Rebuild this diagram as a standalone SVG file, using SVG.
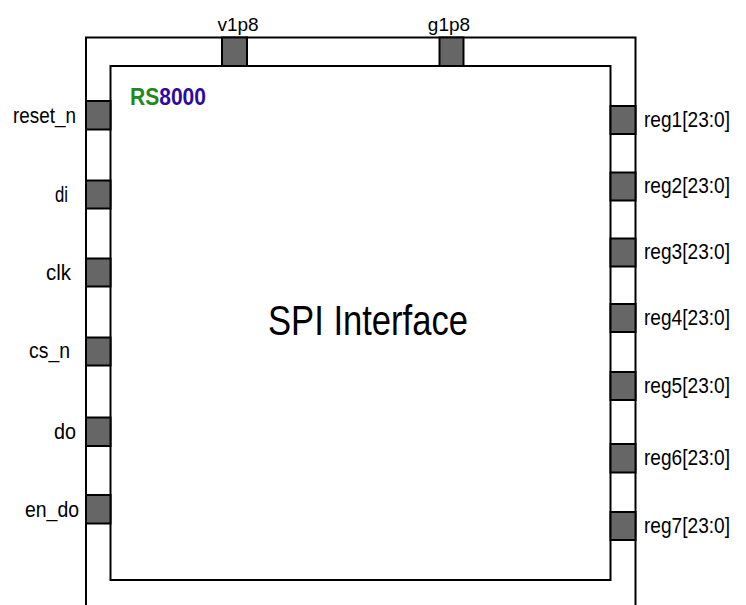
<svg xmlns="http://www.w3.org/2000/svg" width="746" height="605" viewBox="0 0 746 605">
  <style>
    .line { fill: none; stroke: #000; stroke-width: 2; }
    .block { fill: #fff; stroke: #000; stroke-width: 2; }
    .pin { fill: #666; stroke: #000; stroke-width: 2; }
    .top { font-family: "Liberation Sans", Arial, sans-serif; font-size: 19px; fill: #000; }
    .lbl { font-family: "Liberation Sans", Arial, sans-serif; font-size: 21.5px; fill: #000; }
    .title { font-family: "Liberation Sans", Arial, sans-serif; font-size: 42px; fill: #000; }
    .logo { font-family: "Liberation Sans", Arial, sans-serif; font-size: 23px; font-weight: bold; }
  </style>
  <rect width="746" height="605" fill="#fff"/>
  <g id="connectors">
    <path class="line" d="M86,605 V37.5 H635.5 V605"/>
  </g>
  <g id="block">
    <rect class="block" x="110.5" y="66" width="500" height="514"/>
    <text x="130" y="105" class="logo" textLength="76" lengthAdjust="spacingAndGlyphs"><tspan fill="#1e8a1e">RS</tspan><tspan fill="#2f0a9e">8000</tspan></text>
    <text x="368" y="335" class="title" text-anchor="middle" textLength="200" lengthAdjust="spacingAndGlyphs">SPI Interface</text>
  </g>
  <g id="pin-v1p8">
    <rect class="pin" x="222" y="37.5" width="25" height="28.5"/>
    <text class="top" x="238" y="30.5" text-anchor="middle">v1p8</text>
  </g>
  <g id="pin-g1p8">
    <rect class="pin" x="439.5" y="37.5" width="24" height="28.5"/>
    <text class="top" x="449" y="30.5" text-anchor="middle">g1p8</text>
  </g>
  <g id="pin-reset_n">
    <rect class="pin" x="86" y="101" width="24.5" height="28.5"/>
    <text class="lbl" x="13" y="123" textLength="63" lengthAdjust="spacingAndGlyphs">reset_n</text>
  </g>
  <g id="pin-di">
    <rect class="pin" x="86" y="180.5" width="24.5" height="28"/>
    <text class="lbl" x="55" y="202" textLength="13" lengthAdjust="spacingAndGlyphs">di</text>
  </g>
  <g id="pin-clk">
    <rect class="pin" x="86" y="258.5" width="24.5" height="28"/>
    <text class="lbl" x="46" y="280" textLength="25" lengthAdjust="spacingAndGlyphs">clk</text>
  </g>
  <g id="pin-cs_n">
    <rect class="pin" x="86" y="337.5" width="24.5" height="28"/>
    <text class="lbl" x="29" y="358" textLength="41" lengthAdjust="spacingAndGlyphs">cs_n</text>
  </g>
  <g id="pin-do">
    <rect class="pin" x="86" y="417.5" width="24.5" height="28.5"/>
    <text class="lbl" x="54" y="439" textLength="22" lengthAdjust="spacingAndGlyphs">do</text>
  </g>
  <g id="pin-en_do">
    <rect class="pin" x="86" y="495" width="24.5" height="28.5"/>
    <text class="lbl" x="25" y="517" textLength="54" lengthAdjust="spacingAndGlyphs">en_do</text>
  </g>
  <g id="pin-reg1">
    <rect class="pin" x="610.5" y="106" width="25" height="28"/>
    <text class="lbl" x="644" y="127" textLength="86" lengthAdjust="spacingAndGlyphs">reg1[23:0]</text>
  </g>
  <g id="pin-reg2">
    <rect class="pin" x="610.5" y="172.5" width="25" height="28"/>
    <text class="lbl" x="644" y="193" textLength="86" lengthAdjust="spacingAndGlyphs">reg2[23:0]</text>
  </g>
  <g id="pin-reg3">
    <rect class="pin" x="610.5" y="238.5" width="25" height="28"/>
    <text class="lbl" x="644" y="259" textLength="86" lengthAdjust="spacingAndGlyphs">reg3[23:0]</text>
  </g>
  <g id="pin-reg4">
    <rect class="pin" x="610.5" y="304" width="25" height="28"/>
    <text class="lbl" x="644" y="325" textLength="86" lengthAdjust="spacingAndGlyphs">reg4[23:0]</text>
  </g>
  <g id="pin-reg5">
    <rect class="pin" x="610.5" y="372" width="25" height="28"/>
    <text class="lbl" x="644" y="393" textLength="86" lengthAdjust="spacingAndGlyphs">reg5[23:0]</text>
  </g>
  <g id="pin-reg6">
    <rect class="pin" x="610.5" y="444" width="25" height="28.5"/>
    <text class="lbl" x="644" y="465" textLength="86" lengthAdjust="spacingAndGlyphs">reg6[23:0]</text>
  </g>
  <g id="pin-reg7">
    <rect class="pin" x="610.5" y="512" width="25" height="28"/>
    <text class="lbl" x="644" y="533" textLength="86" lengthAdjust="spacingAndGlyphs">reg7[23:0]</text>
  </g>
</svg>
